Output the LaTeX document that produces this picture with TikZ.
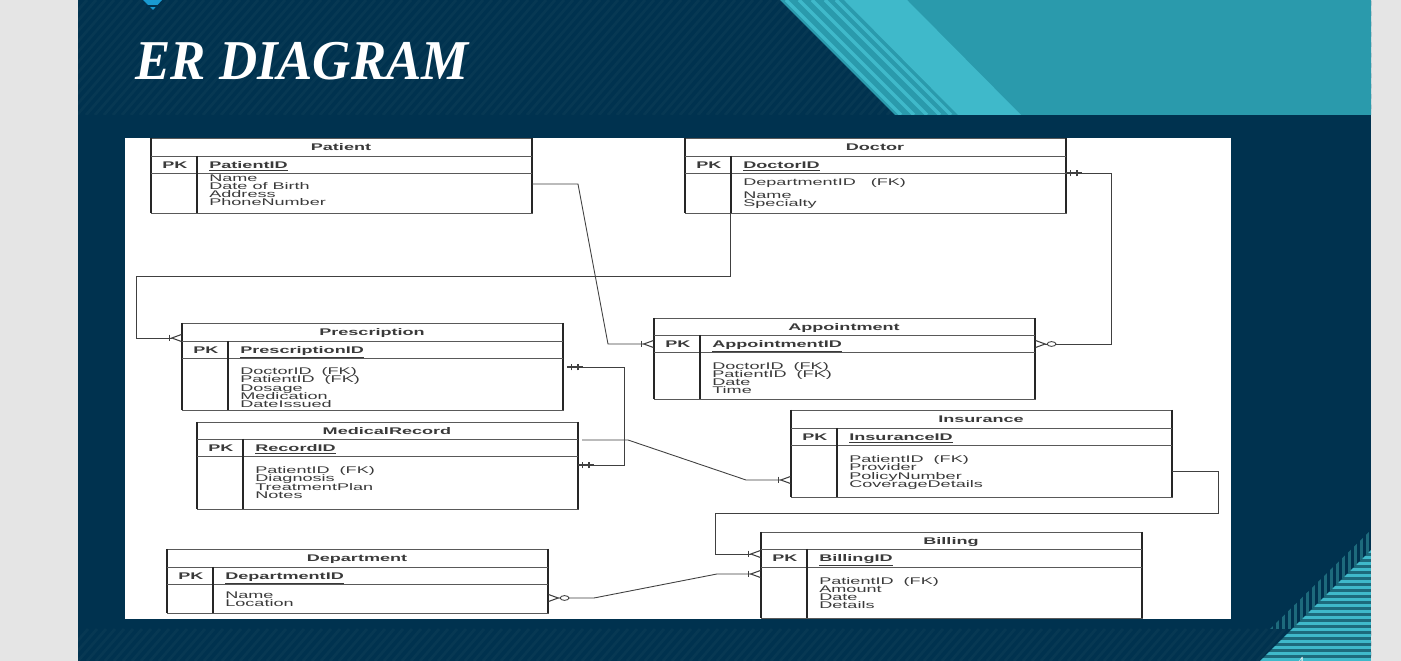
\documentclass[tikz,border=0pt]{standalone}
\usepackage{fontspec}
\usetikzlibrary{arrows.meta}
\usetikzlibrary{positioning,fit}
\setmainfont{Liberation Serif}
\newfontfamily\erfont[FakeStretch=1.87]{Liberation Sans}
\newfontfamily\headfont[FakeStretch=.94]{Liberation Serif}
\definecolor{navy}{HTML}{00324F}
\definecolor{navyline}{HTML}{073853}
\definecolor{teal}{HTML}{2A9AAC}
\definecolor{lightteal}{HTML}{3FB9CA}
\definecolor{darkteal}{HTML}{1D6A7C}
\definecolor{ink}{HTML}{3A3A3A}
\tikzset{
	entity/.style = {draw=black!65, line width=.5pt, inner sep=0pt, outer sep=0pt},
	side/.style = {draw=black!85, line width=.8pt},
	rowline/.style = {draw=black!65, line width=.45pt},
	titletext/.style = {font=\erfont\fontsize{5.5}{7}\selectfont\bfseries, text=ink, inner sep=0pt, text height=4pt, text depth=0pt},
	keytext/.style = {font=\erfont\fontsize{5.5}{7}\selectfont\bfseries, text=ink, inner sep=0pt, anchor=west, text height=4pt, text depth=0pt},
	attr/.style = {font=\erfont\fontsize{5.5}{7}\selectfont, text=ink, inner sep=0pt, anchor=west, text height=4pt, text depth=0pt},
	link/.style = {draw=black!75, line width=.5pt},
	crow/.tip = {Bar[width=3.8pt,line width=.8pt,sep=0pt]Straight Barb[reversed,length=5.5pt,width=4pt,line width=.6pt,sep=0pt]},
	zerocrow/.tip = {Circle[open,fill=white,length=5.5pt,width=3.2pt,line width=.5pt,sep=0pt]Straight Barb[reversed,length=5.5pt,width=4pt,line width=.6pt,sep=0pt]},
	barbar/.tip = {Rectangle[length=2.5pt,width=.4pt,sep=0pt]Bar[width=3.8pt,line width=.8pt,sep=0pt]Rectangle[length=3pt,width=.4pt,sep=0pt]Bar[width=3.8pt,line width=.8pt,sep=0pt]Rectangle[length=2pt,width=.4pt,sep=0pt]},
}
% name, title, key, left, top, first row line, second row line, bottom
\newcommand{\erbox}[8]{
	\node[entity, fit={(#4,#5)(#4+381,#8)}] (#1) {};
	\draw[side] (#1.north west) -- (#1.south west);
	\draw[side] (#1.north east) -- (#1.south east);
	\draw[rowline] (#1.west |- 0,#6) -- (#1.east |- 0,#6);
	\draw[rowline] (#1.west |- 0,#7) -- (#1.east |- 0,#7);
	\draw[side] (#4+46,#6) -- (#4+46,#8);
	\node[titletext] (#1title) at (#4+190,#5+8.5) {#2};
	\node[keytext] (#1pk) at (#4+11,#6+8.5) {PK};
	\node[keytext] (#1key) at (#4+58,#6+8.5) {\underline{#3}};
}
\begin{document}
\begin{tikzpicture}[x=.02cm, y=-.02cm]
	\useasboundingbox (0,0) rectangle (1401,661);
	% slide background
	\fill[black!10] (0,0) rectangle (1401,661);
	\fill[navy] (78,0) rectangle (1371,661);
	\begin{scope}
		\clip (78,0) rectangle (1371,115);
		\foreach \x in {-40,-31,...,1371}
			\draw[navyline, line width=1.6pt] (\x,115) -- (\x+100,0);
	\end{scope}
	\begin{scope}
		\clip (78,629) rectangle (1371,661);
		\foreach \x in {60,69,...,1371}
			\draw[navyline, line width=1.6pt] (\x,661) -- (\x+28,629);
	\end{scope}
	% header band
	\fill[teal] (780,0) -- (1371,0) -- (1371,115) -- (895,115) -- cycle;
	\fill[lightteal] (844,0) -- (907,0) -- (1021,115) -- (958,115) -- cycle;
	\begin{scope}
		\clip (780,0) rectangle (1000,115);
		\foreach \x in {786,799,812,825,836}
			\draw[lightteal, line width=2pt] (\x,0) -- (\x+115,115);
	\end{scope}
	\fill[blue!30!cyan!80!black!90] (143,0) -- (162,0) -- (153,10) -- cycle;
	\fill[navy] (146,5.5) rectangle (160,7);
	% corner
	\begin{scope}
		\clip (1371,530) -- (1371,550) -- (1292,629) -- (1270,629) -- cycle;
		\foreach \x in {1270,1276,...,1371}
			\fill[darkteal] (\x,520) rectangle (\x+3,630);
	\end{scope}
	\begin{scope}
		\clip (1371,550) -- (1371,661) -- (1260,661) -- cycle;
		\fill[darkteal] (1250,545) rectangle (1371,661);
		\foreach \y in {550,556,...,661}
			\fill[lightteal] (1250,\y) rectangle (1371,\y+3);
	\end{scope}
	\node[font=\fontsize{7}{8}\selectfont, text=white, inner sep=0pt] (page) at (1301,661) {4};
	\node[font=\headfont\bfseries\itshape\fontsize{32}{36}\selectfont, text=white, inner sep=0pt, anchor=west] (heading) at (135,61) {ER DIAGRAM};
	% diagram panel
	\fill[white] (125,138) rectangle (1231,619);
	\erbox{patient}{Patient}{PatientID}{151}{138}{156}{173}{213}
	\erbox{doctor}{Doctor}{DoctorID}{685}{138}{156}{173}{213}
	\erbox{prescription}{Prescription}{PrescriptionID}{182}{323}{341}{358}{410}
	\erbox{record}{MedicalRecord}{RecordID}{197}{422}{439}{456}{509}
	\erbox{appointment}{Appointment}{AppointmentID}{654}{318}{335}{352}{399}
	\erbox{insurance}{Insurance}{InsuranceID}{791}{410}{428}{445}{497}
	\erbox{billing}{Billing}{BillingID}{761}{532}{549}{567}{618}
	\erbox{department}{Department}{DepartmentID}{167}{549}{567}{584}{613}
	% attributes
	\foreach \n/\y/\t in {a/178/Name, b/186/Date of Birth, c/194/Address, d/202/PhoneNumber}
		\node[attr] (patient\n) at (209,\y) {\t};
	\foreach \n/\y/\t in {a/182/DepartmentID~~~(FK), b/195/Name, c/203/Specialty}
		\node[attr] (doctor\n) at (743,\y) {\t};
	\foreach \n/\y/\t in {a/371/DoctorID~~(FK), b/379/PatientID~~(FK), c/388/Dosage, d/396/Medication, e/404/DateIssued}
		\node[attr] (prescription\n) at (240,\y) {\t};
	\foreach \n/\y/\t in {a/470/PatientID~~(FK), b/478/Diagnosis, c/487/TreatmentPlan, d/495/Notes}
		\node[attr] (record\n) at (255,\y) {\t};
	\foreach \n/\y/\t in {a/366/DoctorID~~(FK), b/374/PatientID~~(FK), c/382/Date, d/390/Time}
		\node[attr] (appointment\n) at (712,\y) {\t};
	\foreach \n/\y/\t in {a/459/PatientID~~(FK), b/467/Provider, c/476/PolicyNumber, d/484/CoverageDetails}
		\node[attr] (insurance\n) at (849,\y) {\t};
	\foreach \n/\y/\t in {a/581/PatientID~~(FK), b/589/Amount, c/597/Date, d/605/Details}
		\node[attr] (billing\n) at (819,\y) {\t};
	\foreach \n/\y/\t in {a/595/Name, b/603/Location}
		\node[attr] (department\n) at (225,\y) {\t};
	% connectors
	\draw[link, -crow] (patient.east |- 0,184) -- (578,184) -- (608,344) -- (appointment.west |- 0,344);
	\draw[link, barbar-zerocrow] (doctor.east |- 0,173) -- (1111,173) -- (1111,344) -- (appointment.east |- 0,344);
	\draw[link, -crow] (doctor.south -| 730,0) -- (730,276) -- (136,276) -- (136,338) -- (prescription.west |- 0,338);
	\draw[link, barbar-barbar, shorten <=2.3pt] (prescription.east |- 0,367) -- (624,367) -- (624,465) -- (record.east |- 0,465);
	\draw[link, -crow, shorten <=2.3pt] (record.east |- 0,440) -- (628,440) -- (746,480) -- (insurance.west |- 0,480);
	\draw[link, -crow] (insurance.east |- 0,471) -- (1218,471) -- (1218,513) -- (715,513) -- (715,554) -- (billing.west |- 0,554);
	\draw[link, zerocrow-crow] (department.east |- 0,598) -- (594,598) -- (717,574) -- (billing.west |- 0,574);
\end{tikzpicture}
\end{document}
